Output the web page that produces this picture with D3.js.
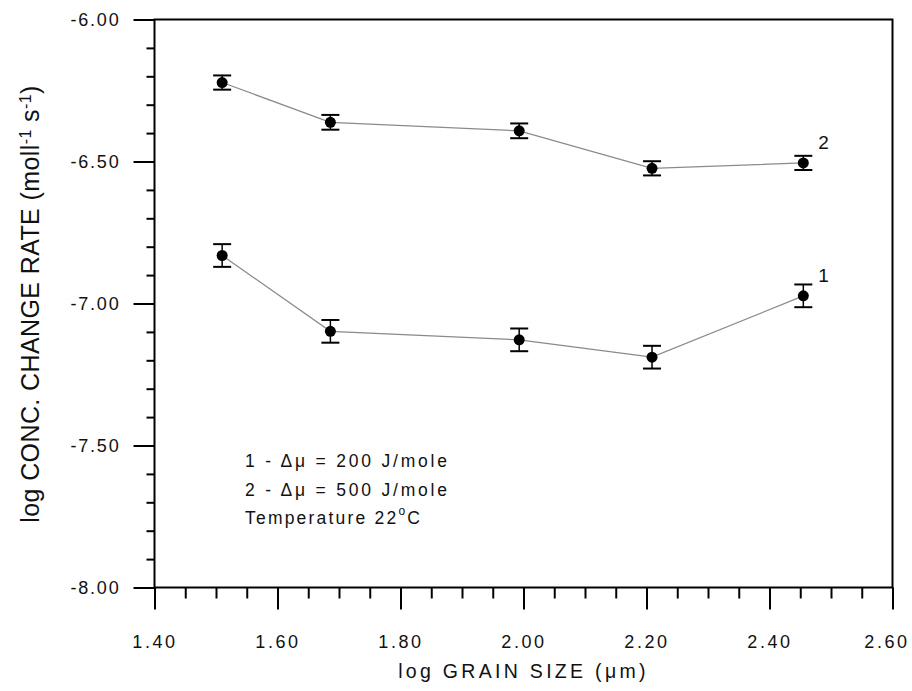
<!DOCTYPE html>
<html>
<head>
<meta charset="utf-8">
<script src="https://cdn.jsdelivr.net/npm/d3@7"></script>
<style>
  html, body { margin: 0; padding: 0; background: #fff; }
  svg { display: block; }
  text { font-family: "Liberation Sans", Arial, sans-serif; fill: #111; }
</style>
</head>
<body>
<svg id="chart" width="912" height="691"></svg>
<script>
// ---- data ----
const grainSize = [1.510, 1.686, 1.993, 2.209, 2.455];
const rate1 = [-6.831, -7.098, -7.128, -7.189, -6.973];
const rate2 = [-6.222, -6.362, -6.392, -6.524, -6.505];
const err1 = [0.040, 0.040, 0.040, 0.040, 0.040];
const err2 = [0.025, 0.026, 0.026, 0.025, 0.025];
const seriesNames = ["1", "2"];
const xTicks = [1.4, 1.6, 1.8, 2.0, 2.2, 2.4, 2.6];
const yTicks = [-8.0, -7.5, -7.0, -6.5, -6.0];
const xMinorTicks = d3.range(0, 25).map(i => 1.4 + i * 0.05);
const yMinorTicks = d3.range(0, 21).map(i => -8 + i * 0.1);
const legendLines = ["1 - \u0394\u03bc = 200 J/mole", "2 - \u0394\u03bc = 500 J/mole"];
const tempLabel = ["Temperature 22", "o", "C"];
const xTitle = "log GRAIN SIZE (\u03bcm)";
const yTitleParts = [["log CONC. CHANGE RATE (moll", false], ["-1", true], [" s", false], ["-1", true], [")", false]];

// ---- layout ----
const svg = d3.select("#chart");
const L = 154.5, R = 892.5, T = 19.5, B = 587.5;
const x = d3.scaleLinear().domain([1.4, 2.6]).range([L, R]);
const y = d3.scaleLinear().domain([-8, -6]).range([B, T]);
const fmt = v => v.toFixed(2);

// frame
svg.append("rect").attr("x", L).attr("y", T).attr("width", R - L).attr("height", B - T)
  .attr("fill", "none").attr("stroke", "#000").attr("stroke-width", 2);

// y axis major
const yAx = svg.append("g").attr("transform", `translate(${L},0)`)
  .call(d3.axisLeft(y).tickValues(yTicks).tickFormat(fmt).tickSize(21).tickPadding(13));
yAx.select(".domain").remove();
yAx.selectAll("line").attr("stroke", "#000").attr("stroke-width", 2);
yAx.selectAll("text").attr("font-size", 18).attr("letter-spacing", "1.8px")
  .attr("font-family", "Liberation Sans, Arial, sans-serif").attr("fill", "#111");
// y axis minor
const yMin = svg.append("g").attr("transform", `translate(${L},0)`)
  .call(d3.axisLeft(y).tickValues(yMinorTicks).tickFormat("").tickSize(8));
yMin.select(".domain").remove();
yMin.selectAll("line").attr("stroke", "#000").attr("stroke-width", 2);

// x axis major
const xAx = svg.append("g").attr("transform", `translate(0,${B})`)
  .call(d3.axisBottom(x).tickValues(xTicks).tickFormat(fmt).tickSize(22).tickPadding(26));
xAx.select(".domain").remove();
xAx.selectAll("line").attr("stroke", "#000").attr("stroke-width", 2);
xAx.selectAll("text").attr("font-size", 18).attr("letter-spacing", "2.6px")
  .attr("font-family", "Liberation Sans, Arial, sans-serif").attr("fill", "#111")
  .attr("dx", (d, i) => i === xTicks.length - 1 ? -6 : 0);
// x axis minor
const xMin = svg.append("g").attr("transform", `translate(0,${B})`)
  .call(d3.axisBottom(x).tickValues(xMinorTicks).tickFormat("").tickSize(11));
xMin.select(".domain").remove();
xMin.selectAll("line").attr("stroke", "#000").attr("stroke-width", 2);

// axis titles
svg.append("text").attr("x", (L + R) / 2).attr("y", 678).attr("text-anchor", "middle")
  .attr("font-size", 19.5).attr("letter-spacing", "3.3px").text(xTitle);

const yt = svg.append("text").attr("transform", "translate(39,304) rotate(-90)")
  .attr("text-anchor", "middle").attr("font-size", 25).attr("letter-spacing", "0.4px");
yTitleParts.forEach(([s, sup]) => {
  const ts = yt.append("tspan").text(s);
  if (sup) ts.attr("font-size", 16).attr("baseline-shift", "super");
});

// series
const series = [
  { name: seriesNames[0], vals: rate1, err: err1 },
  { name: seriesNames[1], vals: rate2, err: err2 }
];
const line = d3.line().x(d => x(d[0])).y(d => y(d[1]));
series.forEach(s => {
  const pts = grainSize.map((g, i) => [g, s.vals[i], s.err[i]]);
  svg.append("path").datum(pts).attr("d", line).attr("fill", "none")
    .attr("stroke", "#8a8a8a").attr("stroke-width", 1.2);
  const g = svg.append("g");
  pts.forEach(p => {
    g.append("line").attr("x1", x(p[0])).attr("x2", x(p[0]))
      .attr("y1", y(p[1] + p[2])).attr("y2", y(p[1] - p[2])).attr("stroke", "#000").attr("stroke-width", 1.5);
    [p[1] + p[2], p[1] - p[2]].forEach(v => {
      g.append("line").attr("x1", x(p[0]) - 9).attr("x2", x(p[0]) + 9)
        .attr("y1", y(v)).attr("y2", y(v)).attr("stroke", "#000").attr("stroke-width", 2);
    });
    g.append("circle").attr("cx", x(p[0])).attr("cy", y(p[1])).attr("r", 5.5).attr("fill", "#000");
  });
  const last = pts[pts.length - 1];
  svg.append("text").attr("x", x(last[0]) + 15).attr("y", y(last[1]) - 14)
    .attr("font-size", 19).text(s.name);
});

// legend
legendLines.forEach((t, i) => {
  svg.append("text").attr("x", 245).attr("y", 467 + i * 28.5)
    .attr("font-size", 17.5).attr("letter-spacing", "2.8px").text(t);
});
const tl = svg.append("text").attr("x", 245).attr("y", 467 + 2 * 28.5)
  .attr("font-size", 17.5).attr("letter-spacing", "2.2px");
tl.append("tspan").text(tempLabel[0]);
tl.append("tspan").attr("font-size", 12).attr("dy", -9).text(tempLabel[1]);
tl.append("tspan").attr("dy", 9).text(tempLabel[2]);
</script>
</body>
</html>
